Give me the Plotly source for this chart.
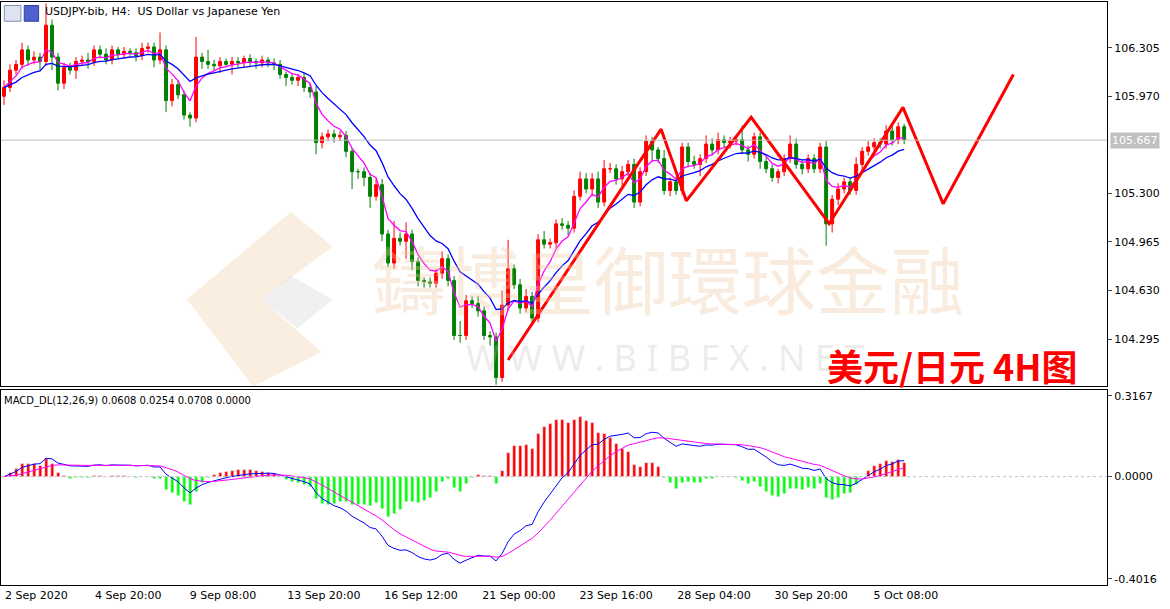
import plotly.graph_objects as go
from plotly.subplots import make_subplots
import pandas as pd

# H4 closes (one per bar)
closes = [106.03, 106.15, 106.19, 106.29, 106.22, 106.24, 106.21, 106.46, 106.24, 106.06,
          106.17, 106.15, 106.21, 106.22, 106.21, 106.29, 106.26, 106.22, 106.29, 106.26,
          106.28, 106.27, 106.25, 106.30, 106.31, 106.22, 106.29, 105.94, 106.05, 105.98,
          105.84, 105.82, 106.24, 106.21, 106.19, 106.18, 106.21, 106.19, 106.21, 106.20,
          106.23, 106.21, 106.20, 106.22, 106.20, 106.19, 106.12, 106.10, 106.08, 106.10,
          106.03, 106.00, 105.65, 105.69, 105.71, 105.69, 105.70, 105.59, 105.45, 105.45,
          105.41, 105.28, 105.36, 105.02, 104.82, 104.99, 104.97, 105.02, 104.83, 104.70,
          104.69, 104.68, 104.75, 104.85, 104.70, 104.32, 104.32, 104.56, 104.54, 104.49,
          104.32, 104.31, 104.03, 104.53, 104.78, 104.67, 104.51, 104.59, 104.44, 104.98,
          104.95, 104.96, 105.09, 105.08, 105.06, 105.28, 105.40, 105.33, 105.40, 105.24,
          105.47, 105.47, 105.40, 105.45, 105.50, 105.24, 105.45, 105.66, 105.60, 105.54,
          105.32, 105.38, 105.32, 105.62, 105.52, 105.50, 105.54, 105.64, 105.60, 105.67,
          105.65, 105.66, 105.67, 105.60, 105.57, 105.69, 105.52, 105.47, 105.41, 105.45,
          105.54, 105.64, 105.50, 105.47, 105.54, 105.47, 105.62, 105.09, 105.26, 105.33,
          105.38, 105.32, 105.50, 105.59, 105.62, 105.65, 105.64, 105.73, 105.67, 105.76,
          105.67]
first_open = 105.97
wick_up = [0.05, 0.04, 0.03, 0.05, 0.03, 0.04, 0.03, 0.15, 0.04, 0.03,
           0.03, 0.03, 0.03, 0.03, 0.05, 0.03, 0.03, 0.04, 0.03, 0.02,
           0.03, 0.02, 0.03, 0.04, 0.03, 0.03, 0.12, 0.03, 0.04, 0.03,
           0.03, 0.02, 0.14, 0.03, 0.08, 0.03, 0.03, 0.02, 0.03, 0.03,
           0.02, 0.03, 0.02, 0.03, 0.02, 0.03, 0.03, 0.02, 0.03, 0.02,
           0.03, 0.03, 0.04, 0.03, 0.03, 0.03, 0.03, 0.03, 0.02, 0.02,
           0.03, 0.03, 0.04, 0.04, 0.03, 0.12, 0.04, 0.08, 0.03, 0.03,
           0.02, 0.03, 0.03, 0.05, 0.03, 0.03, 0.10, 0.04, 0.03, 0.05,
           0.03, 0.03, 0.03, 0.10, 0.20, 0.03, 0.04, 0.05, 0.03, 0.04,
           0.06, 0.03, 0.03, 0.04, 0.03, 0.04, 0.05, 0.04, 0.04, 0.05,
           0.06, 0.04, 0.03, 0.04, 0.03, 0.04, 0.03, 0.04, 0.03, 0.02,
           0.06, 0.03, 0.04, 0.03, 0.03, 0.04, 0.03, 0.06, 0.04, 0.05,
           0.03, 0.03, 0.03, 0.10, 0.03, 0.03, 0.03, 0.03, 0.03, 0.02,
           0.03, 0.06, 0.04, 0.03, 0.03, 0.03, 0.03, 0.04, 0.03, 0.04,
           0.03, 0.03, 0.05, 0.03, 0.04, 0.03, 0.03, 0.04, 0.05, 0.03,
           0.02]
wick_dn = [0.06, 0.03, 0.03, 0.03, 0.04, 0.03, 0.06, 0.03, 0.09, 0.05,
           0.04, 0.03, 0.06, 0.03, 0.05, 0.03, 0.03, 0.03, 0.03, 0.03,
           0.03, 0.02, 0.04, 0.03, 0.03, 0.05, 0.03, 0.08, 0.04, 0.03,
           0.03, 0.06, 0.03, 0.05, 0.03, 0.03, 0.05, 0.02, 0.07, 0.03,
           0.03, 0.03, 0.04, 0.03, 0.03, 0.04, 0.03, 0.06, 0.03, 0.04,
           0.03, 0.04, 0.08, 0.04, 0.03, 0.04, 0.03, 0.04, 0.12, 0.05,
           0.06, 0.08, 0.03, 0.05, 0.03, 0.04, 0.03, 0.12, 0.06, 0.04,
           0.04, 0.03, 0.03, 0.04, 0.04, 0.03, 0.05, 0.03, 0.03, 0.04,
           0.03, 0.06, 0.05, 0.03, 0.04, 0.03, 0.04, 0.03, 0.05, 0.03,
           0.03, 0.03, 0.04, 0.03, 0.05, 0.03, 0.03, 0.03, 0.05, 0.04,
           0.03, 0.03, 0.04, 0.05, 0.03, 0.04, 0.03, 0.03, 0.08, 0.03,
           0.03, 0.04, 0.03, 0.03, 0.04, 0.03, 0.08, 0.03, 0.04, 0.03,
           0.03, 0.04, 0.03, 0.03, 0.05, 0.03, 0.05, 0.03, 0.03, 0.04,
           0.03, 0.03, 0.03, 0.04, 0.03, 0.03, 0.03, 0.15, 0.06, 0.04,
           0.03, 0.03, 0.03, 0.04, 0.03, 0.03, 0.03, 0.03, 0.04, 0.03,
           0.03]

# hand-drawn zigzag (bar index, price)
zig_x = [84, 109.5, 113.7, 124.5, 137.5, 149.8, 156.5, 168.2]
zig_y = [104.151, 105.743, 105.249, 105.825, 105.091, 105.893, 105.228, 106.12]

date_pos = [3.7, 20.7, 36.5, 53.3, 69.5, 85.8, 102, 118.3, 134.5, 150.3]
date_labels = ["2 Sep 2020", "4 Sep 20:00", "9 Sep 08:00", "13 Sep 20:00", "16 Sep 12:00",
               "21 Sep 00:00", "23 Sep 16:00", "28 Sep 04:00", "30 Sep 20:00", "5 Oct 08:00"]
price_ticks = [106.305, 105.970, 105.300, 104.965, 104.630, 104.295]
macd_ticks = [0.3167, 0.0, -0.4016]
last_price = 105.667

df = pd.DataFrame({"close": closes})
df["open"] = [first_open] + closes[:-1]
df["high"] = df[["open", "close"]].max(axis=1) + wick_up
df["low"] = df[["open", "close"]].min(axis=1) - wick_dn
x = list(range(len(df)))

ma_fast = df["close"].ewm(span=5, adjust=False).mean()
ma_slow = df["close"].ewm(span=13, adjust=False).mean()
dif = df["close"].ewm(span=12, adjust=False).mean() - df["close"].ewm(span=26, adjust=False).mean()
dea = dif.ewm(span=9, adjust=False).mean()
hist = 2 * (dif - dea)

fig = make_subplots(rows=2, cols=1, shared_xaxes=True, vertical_spacing=0.007,
                    row_heights=[0.663, 0.337])

fig.add_trace(go.Candlestick(x=x, open=df["open"], high=df["high"], low=df["low"], close=df["close"],
                             increasing=dict(line=dict(color="#ff0000", width=1), fillcolor="#ff0000"),
                             decreasing=dict(line=dict(color="#008000", width=1), fillcolor="#008000"),
                             whiskerwidth=0, showlegend=False), row=1, col=1)
fig.add_trace(go.Scatter(x=x, y=ma_fast, mode="lines", line=dict(color="#ff00ff", width=1.3),
                         showlegend=False), row=1, col=1)
fig.add_trace(go.Scatter(x=x, y=ma_slow, mode="lines", line=dict(color="#0000ff", width=1.3),
                         showlegend=False), row=1, col=1)
fig.add_trace(go.Scatter(x=zig_x, y=zig_y, mode="lines", line=dict(color="#ff0000", width=3),
                         showlegend=False), row=1, col=1)

hcol = ["#ff0000" if v >= 0 else "#00ff00" for v in hist]
fig.add_trace(go.Bar(x=x, y=hist, marker_color=hcol, width=0.5, showlegend=False), row=2, col=1)
fig.add_trace(go.Scatter(x=x, y=dif, mode="lines", line=dict(color="#0000ff", width=1),
                         showlegend=False), row=2, col=1)
fig.add_trace(go.Scatter(x=x, y=dea, mode="lines", line=dict(color="#ff00ff", width=1),
                         showlegend=False), row=2, col=1)

fig.add_hline(y=last_price, line=dict(color="#c0c0c0", width=1), row=1, col=1)
fig.add_hline(y=0, line=dict(color="#c0c0c0", width=1, dash="dot"), row=2, col=1)

fig.update_xaxes(range=[-0.5, 183.8], showgrid=False, rangeslider_visible=False, automargin=False,
                 showline=True, linecolor="black", mirror=True, zeroline=False)
fig.update_xaxes(tickvals=date_pos, ticktext=date_labels, ticks="",
                 tickfont=dict(size=11, color="black", family="DejaVu Sans"), row=2, col=1)
fig.update_yaxes(side="right", showgrid=False, showline=True, linecolor="black", mirror=True,
                 ticks="outside", ticklen=4, zeroline=False, automargin=False,
                 tickfont=dict(size=11, color="black", family="DejaVu Sans"))
fig.update_yaxes(range=[103.973, 106.620], tickvals=price_ticks,
                 ticktext=[f"{v:.3f}" for v in price_ticks], row=1, col=1)
fig.update_yaxes(range=[-0.4254, 0.3405], tickvals=macd_ticks,
                 ticktext=[f"{v:.4f}" for v in macd_ticks], row=2, col=1)

fig.add_annotation(x=1.0, xref="paper", y=last_price, yref="y", xanchor="left", xshift=3,
                   text=f"{last_price:.3f}", showarrow=False, bgcolor="#c0c0c0",
                   font=dict(size=11, color="white", family="DejaVu Sans"))
fig.add_annotation(x=0.0, y=0.0, xref="paper", yref="paper", xanchor="left", yanchor="top",
                   xshift=2, yshift=-2, text=date_labels[0], showarrow=False,
                   font=dict(size=11, color="black", family="DejaVu Sans"))

# watermark
fig.add_shape(type="path", xref="paper", yref="paper",
              path="M 0.168,0.49 L 0.262,0.64 L 0.300,0.58 L 0.235,0.49 L 0.290,0.40 L 0.228,0.34 Z",
              fillcolor="rgba(240,205,165,0.35)", line_width=0, layer="below")
fig.add_shape(type="path", xref="paper", yref="paper",
              path="M 0.235,0.49 L 0.262,0.53 L 0.300,0.49 L 0.268,0.44 Z",
              fillcolor="rgba(205,205,205,0.3)", line_width=0, layer="below")
fig.add_annotation(x=0.603, y=0.53, xref="paper", yref="paper", text="鑄博皇御環球金融",
                   showarrow=False, font=dict(size=74, color="rgba(238,200,160,0.35)",
                                              family="Noto Sans CJK TC"))
fig.add_annotation(x=0.60, y=0.39, xref="paper", yref="paper", text="W W W . B I B F X . N E T",
                   showarrow=False, font=dict(size=36, color="rgba(190,190,190,0.3)",
                                              family="Noto Sans"))

fig.add_annotation(x=0.976, y=0.377, xref="paper", yref="paper", xanchor="right", text="<b>美元/日元 4H图</b>",
                   showarrow=False, font=dict(size=36, color="#ff0000", family="Noto Sans CJK SC"))
fig.add_annotation(x=0.0, y=1.0, xref="paper", yref="paper", xanchor="left", yanchor="top",
                   xshift=42, yshift=-1, text="USDJPY-bib, H4:  US Dollar vs Japanese Yen",
                   showarrow=False, font=dict(size=11, color="black", family="DejaVu Sans"))
fig.add_annotation(x=0.0, y=0.331, xref="paper", yref="paper", xanchor="left", yanchor="top",
                   xshift=1, yshift=-1, text="MACD_DL(12,26,9) 0.0608 0.0254 0.0708 0.0000",
                   showarrow=False, font=dict(size=10, color="black", family="DejaVu Sans"))
fig.add_shape(type="rect", xref="paper", yref="paper", x0=0.003, x1=0.018, y0=0.967, y1=0.994,
              fillcolor="#dde4f0", line=dict(color="#8090b0", width=1))
fig.add_shape(type="rect", xref="paper", yref="paper", x0=0.021, x1=0.034, y0=0.967, y1=0.994,
              fillcolor="#5060d0", line=dict(color="#3040a0", width=1))

fig.update_layout(width=1170, height=609, margin=dict(l=1, r=63, t=2, b=24, autoexpand=False),
                  plot_bgcolor="white", paper_bgcolor="white", bargap=0)

fig.write_html("out.html", config={"displayModeBar": False},
               post_script="document.body.style.margin='0';")
